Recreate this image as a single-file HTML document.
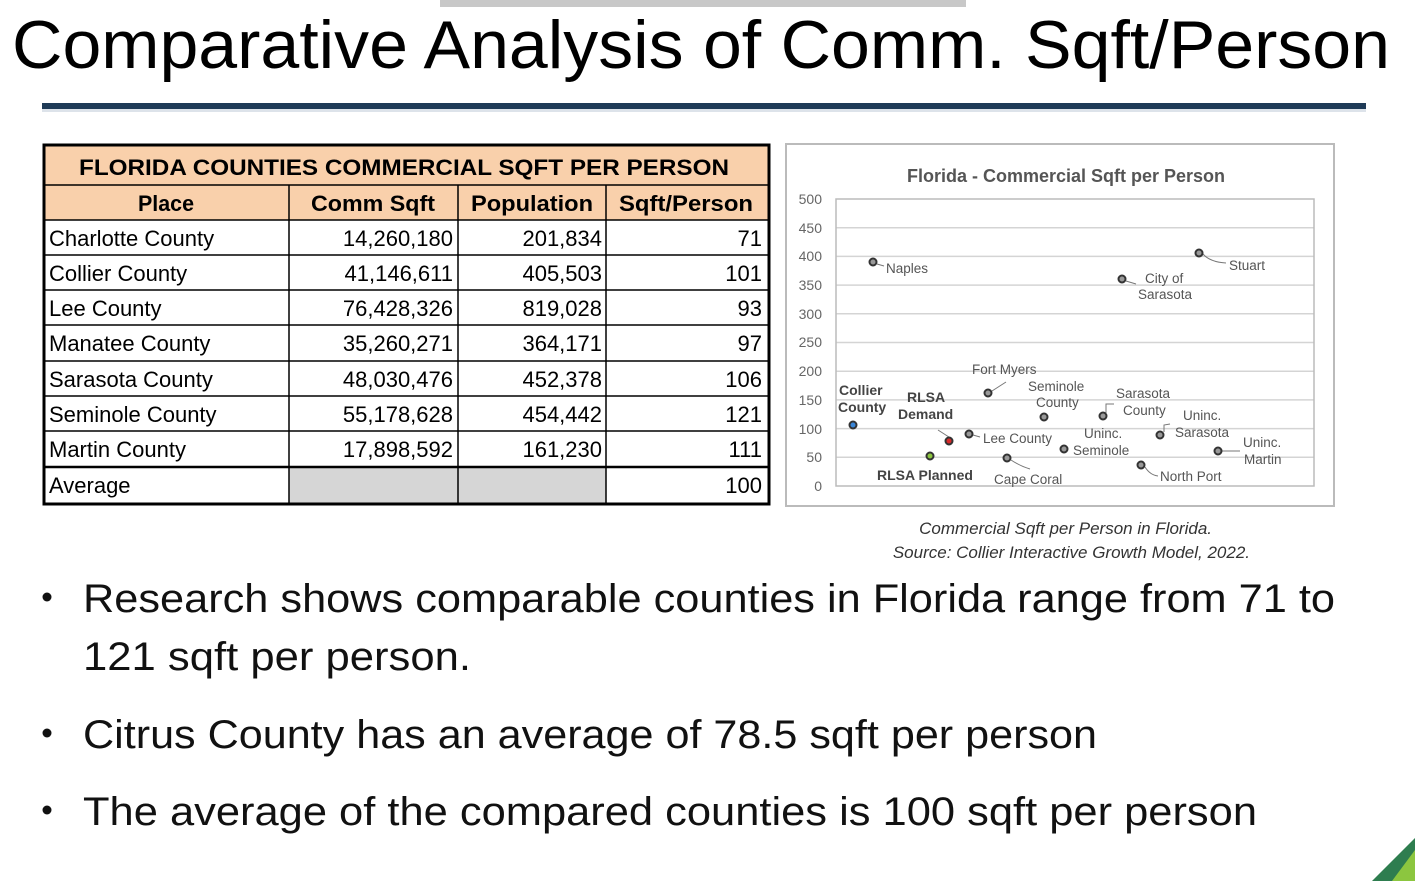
<!DOCTYPE html>
<html><head><meta charset="utf-8"><style>html,body{margin:0;padding:0;background:#fff}svg{display:block}</style></head>
<body>
<svg width="1415" height="881" viewBox="0 0 1415 881" xmlns="http://www.w3.org/2000/svg" font-family="Liberation Sans, sans-serif">
<rect width="1415" height="881" fill="#fff"/>
<rect x="440" y="0" width="526" height="7" fill="#c8c8c8"/>
<text x="12" y="68" font-size="68" textLength="1378" lengthAdjust="spacingAndGlyphs" fill="#000">Comparative Analysis of Comm. Sqft/Person</text>
<rect x="42" y="103" width="1324" height="6" fill="#1f3b57"/>
<rect x="42" y="109" width="1324" height="3" fill="#dde3ea"/>

<!-- table -->
<rect x="45" y="146" width="723" height="74" fill="#f9d0ab"/>
<rect x="289" y="467" width="317" height="36" fill="#d6d6d6"/>
<g stroke="#000" stroke-width="1.5" fill="none">
<rect x="44" y="145" width="725" height="359" stroke-width="3"/>
<line x1="44" y1="185" x2="769" y2="185"/>
<line x1="44" y1="220" x2="769" y2="220"/>
<line x1="44" y1="255" x2="769" y2="255"/>
<line x1="44" y1="290" x2="769" y2="290"/>
<line x1="44" y1="325" x2="769" y2="325"/>
<line x1="44" y1="361" x2="769" y2="361"/>
<line x1="44" y1="396" x2="769" y2="396"/>
<line x1="44" y1="431" x2="769" y2="431"/>
<line x1="44" y1="467" x2="769" y2="467" stroke-width="2.5"/>
<line x1="289" y1="185" x2="289" y2="504"/>
<line x1="458" y1="185" x2="458" y2="504"/>
<line x1="606" y1="185" x2="606" y2="504"/>
</g>
<g font-size="22" fill="#000">
<text x="404" y="175" font-weight="bold" text-anchor="middle" textLength="650" lengthAdjust="spacingAndGlyphs">FLORIDA COUNTIES COMMERCIAL SQFT PER PERSON</text>
<g font-weight="bold" text-anchor="middle">
<text x="166" y="211" textLength="56" lengthAdjust="spacingAndGlyphs">Place</text>
<text x="373" y="211" textLength="124" lengthAdjust="spacingAndGlyphs">Comm Sqft</text>
<text x="532" y="211" textLength="122" lengthAdjust="spacingAndGlyphs">Population</text>
<text x="686" y="211" textLength="134" lengthAdjust="spacingAndGlyphs">Sqft/Person</text>
</g>
<g>
<text x="49" y="246">Charlotte County</text>
<text x="49" y="281">Collier County</text>
<text x="49" y="316">Lee County</text>
<text x="49" y="351">Manatee County</text>
<text x="49" y="387">Sarasota County</text>
<text x="49" y="422">Seminole County</text>
<text x="49" y="457">Martin County</text>
<text x="49" y="493">Average</text>
</g>
<g text-anchor="end">
<text x="453" y="246">14,260,180</text><text x="602" y="246">201,834</text><text x="762" y="246">71</text>
<text x="453" y="281">41,146,611</text><text x="602" y="281">405,503</text><text x="762" y="281">101</text>
<text x="453" y="316">76,428,326</text><text x="602" y="316">819,028</text><text x="762" y="316">93</text>
<text x="453" y="351">35,260,271</text><text x="602" y="351">364,171</text><text x="762" y="351">97</text>
<text x="453" y="387">48,030,476</text><text x="602" y="387">452,378</text><text x="762" y="387">106</text>
<text x="453" y="422">55,178,628</text><text x="602" y="422">454,442</text><text x="762" y="422">121</text>
<text x="453" y="457">17,898,592</text><text x="602" y="457">161,230</text><text x="762" y="457">111</text>
<text x="762" y="493">100</text>
</g>
</g>

<!-- chart -->
<rect x="786" y="144" width="548" height="362" fill="#fff" stroke="#bbb" stroke-width="2"/>
<text x="1066" y="182" font-size="18" font-weight="bold" fill="#555" text-anchor="middle">Florida - Commercial Sqft per Person</text>
<g stroke="#d4d4d4" stroke-width="1.5">
<line x1="836" y1="227.7" x2="1314" y2="227.7"/><line x1="836" y1="256.4" x2="1314" y2="256.4"/>
<line x1="836" y1="285.1" x2="1314" y2="285.1"/><line x1="836" y1="313.8" x2="1314" y2="313.8"/>
<line x1="836" y1="342.5" x2="1314" y2="342.5"/><line x1="836" y1="371.2" x2="1314" y2="371.2"/>
<line x1="836" y1="399.9" x2="1314" y2="399.9"/><line x1="836" y1="428.6" x2="1314" y2="428.6"/>
<line x1="836" y1="457.3" x2="1314" y2="457.3"/>
</g>
<rect x="836" y="199" width="478" height="287" fill="none" stroke="#bbb" stroke-width="1.5"/>
<g font-size="14" fill="#666" text-anchor="end">
<text x="822" y="204">500</text><text x="822" y="233">450</text><text x="822" y="261">400</text>
<text x="822" y="290">350</text><text x="822" y="319">300</text><text x="822" y="347">250</text>
<text x="822" y="376">200</text><text x="822" y="405">150</text><text x="822" y="434">100</text>
<text x="822" y="462">50</text><text x="822" y="491">0</text>
</g>
<g fill="none" stroke="#777" stroke-width="1">
<path d="M877 264 L884 266"/><path d="M1203 254 Q1210 262 1226 263"/><path d="M1126 281 L1136 284"/>
<path d="M992 391 L1006 382"/><path d="M952 439 L938 430"/><path d="M973 435 L980 437"/>
<path d="M1011 460 Q1020 466 1030 469"/><path d="M1145 467 Q1150 475 1158 476"/>
<path d="M1106 413 L1106 404 L1114 404"/><path d="M1164 432 L1164 425 L1170 424"/><path d="M1222 451 L1240 451"/>
</g>
<g stroke="#333" stroke-width="2" fill="#999">
<circle cx="873" cy="262" r="3.5"/><circle cx="1199" cy="253" r="3.5"/><circle cx="1122" cy="279" r="3.5"/>
<circle cx="988" cy="393" r="3.5"/><circle cx="969" cy="434" r="3.5"/><circle cx="1044" cy="417" r="3.5"/>
<circle cx="1007" cy="458" r="3.5"/><circle cx="1064" cy="449" r="3.5"/><circle cx="1103" cy="416" r="3.5"/>
<circle cx="1141" cy="465" r="3.5"/><circle cx="1160" cy="435" r="3.5"/><circle cx="1218" cy="451" r="3.5"/>
<circle cx="853" cy="425" r="3.5" fill="#3a86d8"/><circle cx="949" cy="441" r="3.5" fill="#d82a2a"/><circle cx="930" cy="456" r="3.5" fill="#8cc63f"/>
</g>
<g font-size="13.5" fill="#555">
<text x="886" y="273">Naples</text><text x="1229" y="270">Stuart</text>
<text x="1145" y="283">City of</text><text x="1138" y="299">Sarasota</text>
<text x="972" y="374">Fort Myers</text>
<text x="1028" y="391">Seminole</text><text x="1036" y="407">County</text>
<text x="1116" y="398">Sarasota</text><text x="1123" y="415">County</text>
<text x="1183" y="420">Uninc.</text><text x="1175" y="437">Sarasota</text>
<text x="1243" y="447">Uninc.</text><text x="1244" y="464">Martin</text>
<text x="983" y="443">Lee County</text>
<text x="1084" y="438">Uninc.</text><text x="1073" y="455">Seminole</text>
<text x="994" y="484">Cape Coral</text><text x="1160" y="481">North Port</text>
</g>
<g font-size="14" font-weight="bold" fill="#444">
<text x="839" y="395">Collier</text><text x="838" y="412">County</text>
<text x="907" y="402">RLSA</text><text x="898" y="419">Demand</text>
<text x="877" y="480">RLSA Planned</text>
</g>
<g font-size="17" font-style="italic" fill="#333" text-anchor="end">
<text x="1212" y="534">Commercial Sqft per Person in Florida.</text>
<text x="1250" y="558">Source: Collier Interactive Growth Model, 2022.</text>
</g>

<!-- bullets -->
<g font-size="40" fill="#111">
<circle cx="47" cy="597" r="4.5"/><circle cx="47" cy="733" r="4.5"/><circle cx="47" cy="810" r="4.5"/>
<text x="83" y="612" textLength="1252" lengthAdjust="spacingAndGlyphs">Research shows comparable counties in Florida range from 71 to</text>
<text x="83" y="670" textLength="388" lengthAdjust="spacingAndGlyphs">121 sqft per person.</text>
<text x="83" y="748" textLength="1014" lengthAdjust="spacingAndGlyphs">Citrus County has an average of 78.5 sqft per person</text>
<text x="83" y="825" textLength="1174" lengthAdjust="spacingAndGlyphs">The average of the compared counties is 100 sqft per person</text>
</g>
<polygon points="1415,838 1415,881 1372,881" fill="#2e7d4f"/>
<polygon points="1415,850 1415,881 1392,881" fill="#8cc63f"/>
</svg>
</body></html>
